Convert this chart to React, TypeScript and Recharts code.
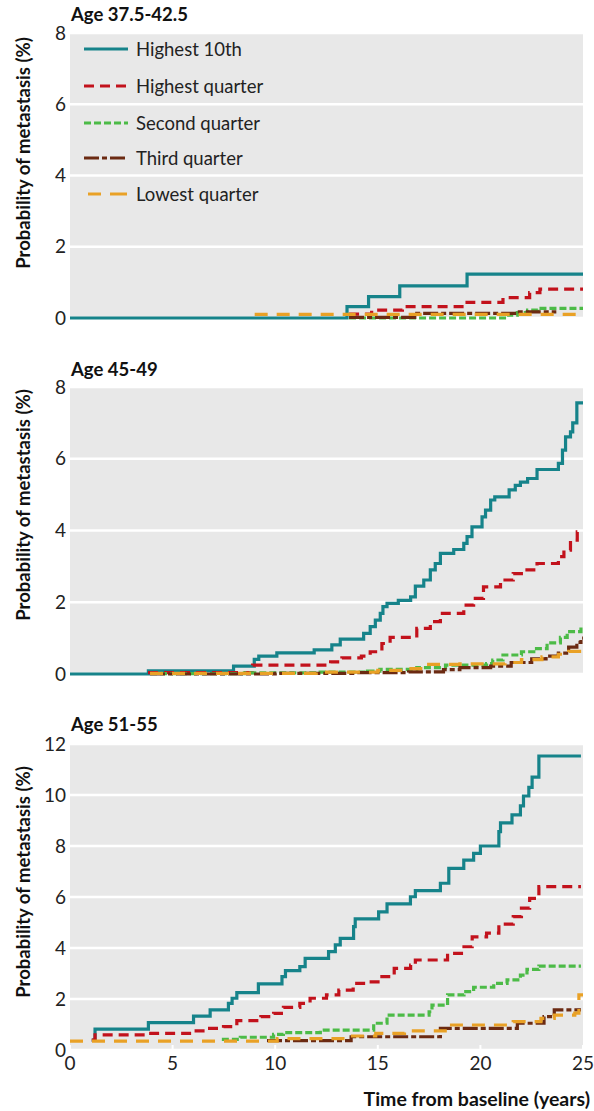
import React from 'react';
import { LineChart, Line, XAxis, YAxis, CartesianGrid } from 'recharts';

type Pt = [number, number];

// Series names and styles
const seriesNames = ['Highest 10th', 'Highest quarter', 'Second quarter', 'Third quarter', 'Lowest quarter'];
const seriesColors = ['#16838a', '#c2121c', '#4cbb47', '#6b2a12', '#e9a126'];
const seriesDash = ['', '10 6', '7 3', '15 3 5 3', '13 9'];

const panelTitles = ['Age 37.5-42.5', 'Age 45-49', 'Age 51-55'];
const xTicks = [0, 5, 10, 15, 20, 25];
const yTicksSmall = [0, 2, 4, 6, 8];
const yTicksLarge = [0, 2, 4, 6, 8, 10, 12];

// Panel 1: Age 37.5-42.5
const p1Top10: Pt[] = [[0, 0], [13.5, 0.32], [14.55, 0.6], [16.07, 0.9], [19.35, 1.23], [25, 1.23]];
const p1HighQ: Pt[] = [[13.6, 0.11], [14.7, 0.22], [16.2, 0.32], [19.35, 0.44], [21.1, 0.57], [22.4, 0.71], [22.9, 0.81], [25, 0.81]];
const p1SecondQ: Pt[] = [[13.6, 0], [21.3, 0.08], [21.8, 0.15], [22.3, 0.22], [22.8, 0.27], [25, 0.27]];
const p1ThirdQ: Pt[] = [[13.6, 0.02], [16.8, 0.13], [21.8, 0.17], [23.7, 0.17]];
const p1LowQ: Pt[] = [[9, 0.1], [25, 0.1]];

// Panel 2: Age 45-49
const p2Top10: Pt[] = [[0, 0], [3.82, 0.09], [7.97, 0.22], [8.98, 0.41], [9.2, 0.5], [10.08, 0.59], [11.9, 0.67], [12.76, 0.81], [13.17, 0.97], [14.31, 1.13], [14.63, 1.32], [14.88, 1.5], [15.12, 1.69], [15.25, 1.88], [15.45, 1.97], [16.0, 2.05], [16.6, 2.15], [16.83, 2.45], [17.24, 2.62], [17.56, 2.9], [17.8, 3.08], [18.05, 3.36], [18.7, 3.47], [19.19, 3.64], [19.35, 3.83], [19.59, 4.1], [20.08, 4.38], [20.25, 4.57], [20.5, 4.85], [20.7, 4.94], [21.4, 5.13], [21.7, 5.26], [21.95, 5.35], [22.3, 5.45], [22.76, 5.7], [23.8, 5.87], [24.0, 6.24], [24.15, 6.61], [24.39, 6.75], [24.5, 7.0], [24.7, 7.56], [25, 7.56]];
const p2HighQ: Pt[] = [[3.8, 0.04], [8.9, 0.25], [12.7, 0.34], [13.25, 0.45], [14.2, 0.5], [14.63, 0.62], [15.2, 0.85], [15.6, 1.02], [16.9, 1.27], [17.56, 1.46], [18.05, 1.69], [19.19, 1.92], [19.67, 2.11], [20.15, 2.43], [20.98, 2.62], [21.6, 2.8], [22.27, 2.9], [22.76, 3.08], [23.8, 3.27], [24.07, 3.45], [24.39, 3.73], [24.72, 3.96], [25, 3.96]];
const p2SecondQ: Pt[] = [[3.9, 0.01], [8.5, 0.03], [12, 0.05], [14.5, 0.08], [15.1, 0.13], [16.9, 0.18], [18.3, 0.25], [20.3, 0.29], [20.6, 0.39], [21.1, 0.53], [22, 0.62], [22.6, 0.71], [23.25, 0.87], [23.9, 1.02], [24.23, 1.18], [24.9, 1.32], [25, 1.32]];
const p2ThirdQ: Pt[] = [[3.9, 0], [10, 0.02], [14, 0.04], [16.5, 0.06], [18.2, 0.12], [19, 0.18], [20.5, 0.22], [21.5, 0.32], [22.5, 0.42], [23.2, 0.5], [23.8, 0.58], [24.3, 0.75], [24.7, 0.88], [24.9, 1.0], [25, 1.0]];
const p2LowQ: Pt[] = [[3.9, 0.02], [12, 0.05], [15, 0.1], [16.4, 0.15], [17.4, 0.27], [19, 0.28], [21.2, 0.32], [22, 0.4], [23, 0.48], [23.8, 0.55], [24.3, 0.63], [25, 0.63]];

// Panel 3: Age 51-55
const p3Top10: Pt[] = [[1.06, 0.39], [1.22, 0.82], [3.82, 1.07], [6.02, 1.33], [6.83, 1.57], [7.72, 1.83], [7.9, 2.03], [8.13, 2.25], [9.18, 2.59], [10.33, 2.88], [10.5, 3.11], [11.2, 3.27], [11.46, 3.59], [12.6, 3.86], [12.93, 4.12], [13.17, 4.38], [13.82, 4.84], [13.9, 5.14], [15.04, 5.42], [15.45, 5.73], [16.59, 6.01], [16.83, 6.25], [18.05, 6.54], [18.46, 7.12], [19.19, 7.45], [19.67, 7.71], [20.0, 8.0], [20.9, 8.56], [20.98, 8.91], [21.54, 9.22], [21.95, 9.57], [22.1, 9.96], [22.36, 10.3], [22.52, 10.7], [22.85, 11.53], [24.9, 11.53]];
const p3HighQ: Pt[] = [[1.06, 0.39], [1.22, 0.59], [3.82, 0.65], [6.0, 0.75], [6.67, 0.85], [7.48, 0.92], [8.13, 1.15], [9.3, 1.31], [9.92, 1.44], [10.4, 1.67], [11.2, 1.83], [11.7, 2.03], [12.5, 2.16], [13.1, 2.35], [13.8, 2.61], [14.47, 2.67], [15.2, 2.88], [15.8, 3.2], [16.6, 3.33], [16.83, 3.53], [18.4, 3.79], [19.2, 4.05], [19.6, 4.44], [20.3, 4.58], [20.9, 4.94], [21.6, 5.23], [22.0, 5.56], [22.4, 5.95], [22.85, 6.41], [24.9, 6.41]];
const p3SecondQ: Pt[] = [[7.4, 0.42], [8.3, 0.5], [9.92, 0.61], [10.4, 0.68], [12.2, 0.78], [14.8, 1.05], [15.45, 1.37], [17.5, 1.5], [17.64, 1.76], [18.4, 2.16], [19.2, 2.29], [19.67, 2.46], [20.65, 2.61], [21.3, 2.75], [21.95, 2.94], [22.27, 3.16], [22.85, 3.29], [24.9, 3.29]];
const p3ThirdQ: Pt[] = [[9.6, 0.37], [13.7, 0.52], [18.05, 0.85], [21.8, 1.05], [23.1, 1.31], [23.6, 1.57], [24.9, 1.57]];
const p3LowQ: Pt[] = [[0, 0.35], [10.1, 0.45], [13.3, 0.55], [14.9, 0.65], [16.3, 0.75], [18.4, 0.98], [21.6, 1.11], [22.95, 1.24], [23.6, 1.37], [24.6, 1.45], [24.8, 2.16], [25, 2.16]];

const FONT = 'Lato, "Noto Sans", sans-serif';

const toRows = (pts: Pt[]) => pts.map(([t, v]) => ({ t, v }));

interface PanelProps {
  top: number;
  height: number;
  margin: { top: number; right: number; bottom: number; left: number };
  yMax: number;
  yTicks: number[];
  series: Pt[][];
  showX: boolean;
}

function Panel({ top, height, margin, yMax, yTicks, series, showX }: PanelProps) {
  return (
    <div style={{ position: 'absolute', left: 0, top, width: 594, height }}>
      <LineChart width={594} height={height} margin={margin}>
        <CartesianGrid vertical={false} stroke="#ffffff" strokeWidth={2.5} fill="#e8e8e8" />
        <XAxis
          type="number"
          dataKey="t"
          domain={[0, 25]}
          ticks={xTicks}
          axisLine={false}
          tickLine={{ stroke: '#ffffff', strokeWidth: 2 }}
          tickSize={-5}
          tickMargin={showX ? 12 : 0}
          tick={showX ? { fontSize: 19, fill: '#222', fontFamily: FONT } : false}
          height={showX ? 30 : 0}
          allowDataOverflow
        />
        <YAxis
          type="number"
          domain={[0, yMax]}
          ticks={yTicks}
          axisLine={false}
          tickLine={false}
          tickSize={0}
          tickMargin={4}
          width={62}
          tick={{ fontSize: 19, fill: '#222', fontFamily: FONT }}
        />
        {series.map((pts, i) => (
          <Line
            key={seriesNames[i]}
            data={toRows(pts)}
            dataKey="v"
            name={seriesNames[i]}
            type="stepAfter"
            stroke={seriesColors[i]}
            strokeWidth={3.2}
            strokeDasharray={seriesDash[i] || undefined}
            dot={false}
            activeDot={false}
            isAnimationActive={false}
          />
        ))}
      </LineChart>
    </div>
  );
}

const legendRowsY = [49, 86, 123, 158, 194];

export default function App() {
  return (
    <div style={{ position: 'absolute', left: 0, top: 0, width: 594, height: 1111, background: '#fff', fontFamily: FONT }}>
      <Panel
        top={0}
        height={330}
        margin={{ top: 33, right: 11, bottom: 12, left: 8 }}
        yMax={8}
        yTicks={yTicksSmall}
        series={[p1Top10, p1HighQ, p1SecondQ, p1ThirdQ, p1LowQ]}
        showX={false}
      />
      <Panel
        top={350}
        height={340}
        margin={{ top: 37, right: 11, bottom: 16, left: 8 }}
        yMax={8}
        yTicks={yTicksSmall}
        series={[p2Top10, p2HighQ, p2SecondQ, p2ThirdQ, p2LowQ]}
        showX={false}
      />
      <Panel
        top={700}
        height={411}
        margin={{ top: 44, right: 11, bottom: 31, left: 8 }}
        yMax={12}
        yTicks={yTicksLarge}
        series={[p3Top10, p3HighQ, p3SecondQ, p3ThirdQ, p3LowQ]}
        showX={true}
      />
      <svg width={594} height={1111} style={{ position: 'absolute', left: 0, top: 0, pointerEvents: 'none' }}>
        <g fontFamily={FONT} fill="#111">
          <text x={71} y={21} fontSize={18.5} fontWeight={700}>{panelTitles[0]}</text>
          <text x={71} y={376} fontSize={18.5} fontWeight={700}>{panelTitles[1]}</text>
          <text x={71} y={731} fontSize={18.5} fontWeight={700}>{panelTitles[2]}</text>
          {[153, 505, 882].map((cy) => (
            <text key={cy} x={0} y={0} fontSize={18.5} fontWeight={700} textAnchor="middle" dominantBaseline="central"
              transform={`translate(23, ${cy}) rotate(-90)`}>
              Probability of metastasis (%)
            </text>
          ))}
          <text x={590} y={1106} fontSize={19.5} fontWeight={700} textAnchor="end">Time from baseline (years)</text>
          {seriesNames.map((name, i) => (
            <g key={name}>
              <line x1={84} x2={128} y1={legendRowsY[i]} y2={legendRowsY[i]} stroke={seriesColors[i]} strokeWidth={3}
                strokeDasharray={i === 4 ? '0 4 13 9 13' : seriesDash[i] || undefined} />
              <text x={136} y={legendRowsY[i]} fontSize={18.5} fill="#222" dominantBaseline="central">{name}</text>
            </g>
          ))}
        </g>
      </svg>
    </div>
  );
}
